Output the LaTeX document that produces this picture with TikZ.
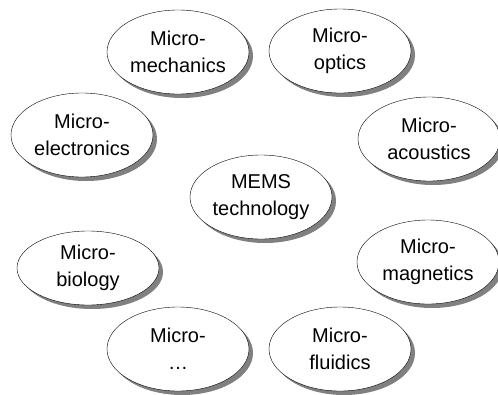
\documentclass[tikz,border=0pt]{standalone}
\usepackage{fontspec}
\setmainfont{Liberation Sans}
\usetikzlibrary{shapes.geometric,shadows}
\tikzset{
	field/.style={ellipse, draw, fill=white, thin, inner sep=0pt,
		minimum width=142pt, minimum height=84pt, align=center,
		font=\fontsize{20}{27}\selectfont,
		drop shadow={shadow xshift=4pt, shadow yshift=-4pt, fill=black!50, opacity=1}}
}
\begin{document}
\begin{tikzpicture}[x=1pt, y=-1pt]
			\useasboundingbox (0, 0) rectangle (498, 394);

			\node [field] (mech) at (178, 52) {Micro-\\mechanics};
			\node [field] (optics) at (340, 51) {Micro-\\optics};
			\node [field] (elec) at (82, 135) {Micro-\\electronics};
			\node [field] (acou) at (429, 139) {Micro-\\acoustics};
			\node [field] (mems) at (261, 197) {MEMS\\technology};
			\node [field, minimum height=74pt] (bio) at (88, 268) {Micro-\\biology};
			\node [field] (magn) at (428, 262) {Micro-\\magnetics};
			\node [field] (other) at (178, 349) {Micro-\\\ldots};
			\node [field] (fluid) at (340, 349) {Micro-\\fluidics};
		\end{tikzpicture}
\end{document}
